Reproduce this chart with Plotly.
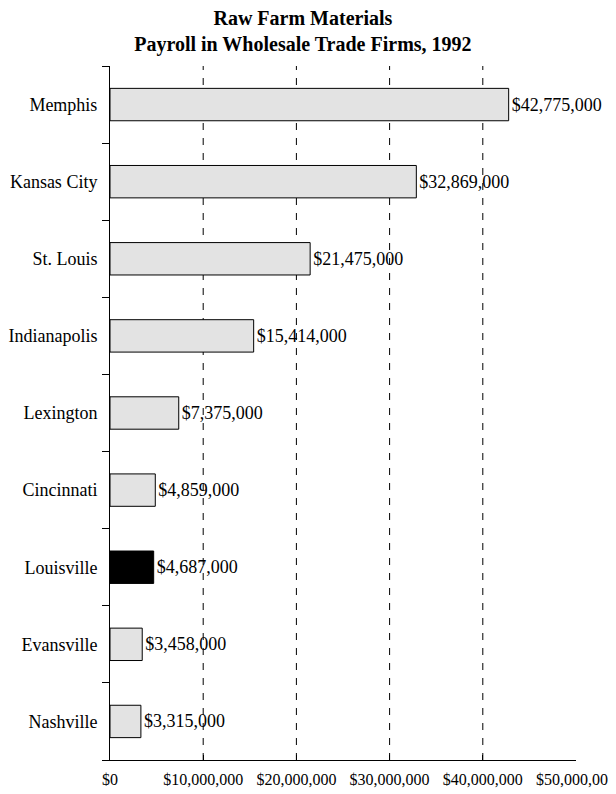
import plotly.graph_objects as go

# cities listed bottom-to-top so Memphis ends up on top
cities = ["Nashville", "Evansville", "Louisville", "Cincinnati", "Lexington",
          "Indianapolis", "St. Louis", "Kansas City", "Memphis"]
payroll = [3315000, 3458000, 4687000, 4859000, 7375000,
           15414000, 21475000, 32869000, 42775000]
highlight = "Louisville"

tick_vals = [0, 10000000, 20000000, 30000000, 40000000, 50000000]
tick_text = ["$0", "$10,000,000", "$20,000,000", "$30,000,000", "$40,000,000", "$50,000,000"]
grid_vals = [10000000, 20000000, 30000000, 40000000]

serif = "Liberation Serif, Times New Roman, serif"

colors = ["black" if c == highlight else "#e3e3e3" for c in cities]
labels = ["${:,}".format(v) for v in payroll]

fig = go.Figure()
fig.add_trace(go.Bar(
    x=payroll, y=cities, orientation="h",
    width=0.42,
    marker=dict(color=colors, line=dict(color="black", width=1)),
    text=labels, textposition="outside", constraintext="none",
    outsidetextfont=dict(family=serif, size=18, color="black"),
    cliponaxis=False,
    hoverinfo="skip",
))

# dashed gridlines only at the inner ticks
for v in grid_vals:
    fig.add_shape(type="line", xref="x", yref="paper", x0=v, x1=v, y0=0, y1=1,
                  line=dict(color="black", width=1, dash="7px,8px"), layer="below")

# the page body adds an 8px margin, so the figure is sized to fit inside it
fig.update_layout(
    width=608, height=786,
    paper_bgcolor="white", plot_bgcolor="white",
    margin=dict(l=102, r=40, t=58, b=34),
    showlegend=False,
    title=dict(
        text="<b>Raw Farm Materials<br>Payroll in Wholesale Trade Firms, 1992</b>",
        font=dict(family=serif, size=20, color="black"),
        x=0.485, xanchor="center", y=0.978, yanchor="top",
    ),
    xaxis=dict(
        range=[0, 50000000], tickmode="array", tickvals=tick_vals, ticktext=tick_text,
        showgrid=False, zeroline=False, automargin=False,
        showline=True, linecolor="black", linewidth=1,
        ticks="inside", ticklen=5, tickcolor="black",
        tickfont=dict(family=serif, size=16, color="black"),
        ticklabelstandoff=5,
    ),
    yaxis=dict(
        showgrid=False, zeroline=False, automargin=False,
        showline=True, linecolor="black", linewidth=1,
        ticks="outside", ticklen=7, tickcolor="black", tickson="boundaries",
        tickfont=dict(family=serif, size=18, color="black"),
        ticklabelstandoff=8,
    ),
)

fig.write_html("out.html")
